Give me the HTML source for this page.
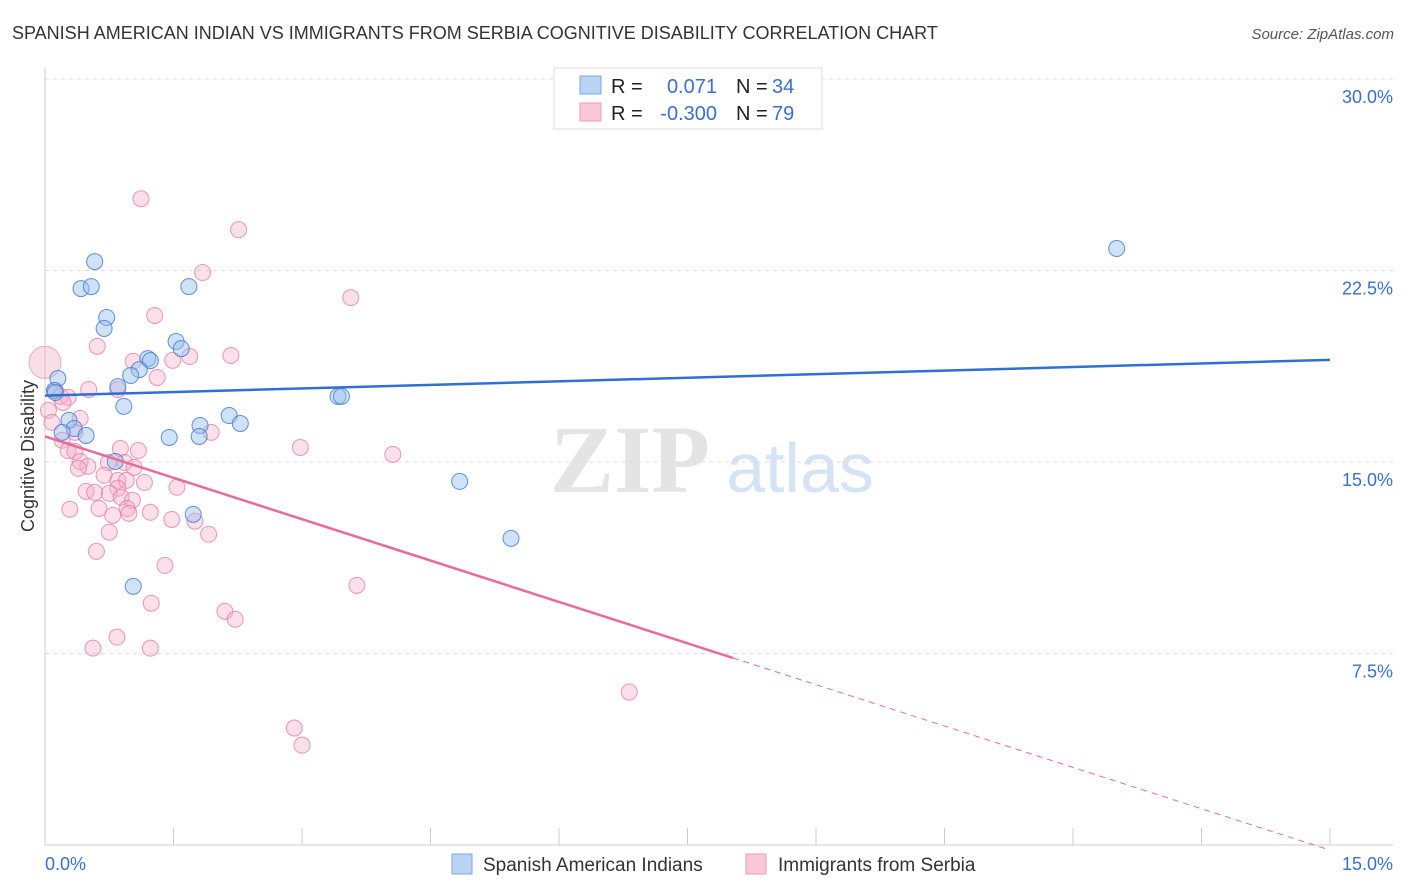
<!DOCTYPE html>
<html><head><meta charset="utf-8"><style>
body{margin:0;background:#fff;font-family:"Liberation Sans",sans-serif;}
svg{display:block}
</style></head><body>
<svg id="chart" width="1406" height="892">
<text x="12" y="39" font-size="18" fill="#333">SPANISH AMERICAN INDIAN VS IMMIGRANTS FROM SERBIA COGNITIVE DISABILITY CORRELATION CHART</text>
<text x="1394" y="39" font-size="15" fill="#555" font-style="italic" text-anchor="end">Source: ZipAtlas.com</text>
<text x="630" y="492" font-size="96" fill="#e4e4e4" font-family="Liberation Serif" font-weight="bold" text-anchor="middle">ZIP</text>
<text x="800" y="492" font-size="70" fill="#d5e3f5" text-anchor="middle">atlas</text>
<g id="grid"></g><g id="axes"></g><g id="marks"></g>
<text transform="translate(34,456) rotate(-90)" font-size="18" fill="#333" text-anchor="middle">Cognitive Disability</text>
<g>
<rect x="554" y="68" width="268" height="61" fill="#fff" stroke="#ddd"/>
<rect x="580" y="76" width="21" height="18" fill="#b9d3f5" stroke="#7aa7e6"/>
<rect x="580" y="103" width="21" height="18" fill="#fbc8d8" stroke="#ee9ab5"/>
<text x="611" y="93" font-size="20" fill="#222">R =</text><text x="717" y="93" font-size="20" fill="#3a6fd0" text-anchor="end">0.071</text>
<text x="736" y="93" font-size="20" fill="#222">N =</text><text x="772" y="93" font-size="20" fill="#3a6fd0">34</text>
<text x="611" y="120" font-size="20" fill="#222">R =</text><text x="717" y="120" font-size="20" fill="#3a6fd0" text-anchor="end">-0.300</text>
<text x="736" y="120" font-size="20" fill="#222">N =</text><text x="772" y="120" font-size="20" fill="#3a6fd0">79</text>
</g>
<g>
<rect x="452" y="854" width="20" height="20" fill="#b9d3f5" stroke="#7aa7e6"/>
<text x="483" y="871" font-size="19" fill="#333">Spanish American Indians</text>
<rect x="746" y="854" width="20" height="20" fill="#fbc8d8" stroke="#ee9ab5"/>
<text x="778" y="871" font-size="19" fill="#333">Immigrants from Serbia</text>
</g>
</svg>
<script>
const yTicks=[7.5,15,22.5,30];
const yTickLabels=["7.5%","15.0%","22.5%","30.0%"];
const xLabels=["0.0%","15.0%"];
const blueX=[0.58,0.42,0.54,1.68,0.72,0.69,1.53,1.59,1.20,1.23,1.10,1.00,0.15,0.11,0.85,0.92,3.42,3.46,2.15,1.81,2.28,0.28,0.34,0.48,0.20,1.45,1.80,0.82,4.84,1.73,5.44,1.03,12.51,0.12];
const blueY=[22.85,21.79,21.87,21.87,20.66,20.23,19.72,19.44,19.05,18.97,18.62,18.39,18.27,17.80,17.95,17.18,17.57,17.57,16.82,16.43,16.51,16.63,16.31,16.04,16.16,15.96,16.00,15.02,14.24,12.95,12.01,10.13,23.36,17.72];
const pinkX=[1.12,2.26,1.84,3.57,1.28,0.61,1.69,2.17,1.03,1.49,1.31,0.51,0.85,0.12,0.18,0.27,0.21,0.04,0.41,0.08,0.35,0.20,0.27,0.35,0.88,1.09,1.94,2.98,4.06,0.41,0.74,0.93,0.50,0.39,1.04,0.69,0.85,0.95,0.85,1.16,1.54,0.48,0.58,0.75,0.89,1.02,0.63,0.96,0.29,0.79,0.98,1.23,1.48,1.75,0.75,1.91,0.60,1.40,3.64,1.24,2.10,2.22,0.84,0.56,1.23,6.82,2.91,3.00];
const pinkY=[25.31,24.10,22.42,21.44,20.74,19.53,19.13,19.17,18.94,18.98,18.31,17.84,17.84,17.80,17.57,17.53,17.33,17.02,16.71,16.55,16.16,15.85,15.45,15.41,15.53,15.45,16.16,15.57,15.30,15.02,14.98,14.98,14.83,14.75,14.79,14.48,14.28,14.28,13.97,14.20,14.01,13.85,13.81,13.77,13.62,13.50,13.18,13.18,13.15,12.91,12.99,13.03,12.75,12.68,12.25,12.17,11.50,10.95,10.17,9.47,9.15,8.84,8.14,7.71,7.71,5.99,4.58,3.91];
const blueTrend=[17.6,19.0];
const pinkTrend=[16.0,-0.2];
const pinkSolidEnd=8.03;
const NS="http://www.w3.org/2000/svg";
const xs=v=>45+v*(1285/15), ys=v=>845-v*(766/30);
function mk(t,a,p){const e=document.createElementNS(NS,t);for(const k in a)e.setAttribute(k,a[k]);p.appendChild(e);return e;}
const grid=document.getElementById('grid'),axes=document.getElementById('axes'),marks=document.getElementById('marks');
yTicks.forEach((t,i)=>{
 const l=mk('line',{x1:45,x2:1393,y1:ys(t),y2:ys(t),stroke:'#ddd','stroke-dasharray':'4,4'},grid);
 
 const tx=mk('text',{x:1393,y:ys(t)+24,'font-size':18,fill:'#3a6fd0','text-anchor':'end'},axes);
 tx.textContent=yTickLabels[i];
 
});
mk('line',{x1:45,x2:45,y1:68,y2:845,stroke:'#ccc'},axes);
mk('line',{x1:45,x2:1393,y1:845,y2:845,stroke:'#ccc'},axes);
for(let i=0;i<=10;i++){const t=mk('line',{x1:xs(i*1.5),x2:xs(i*1.5),y1:828,y2:845,stroke:'#ccc'},axes);
 }
let a=mk('text',{x:45,y:870,'font-size':18,fill:'#3a6fd0'},axes);a.textContent=xLabels[0];

a=mk('text',{x:1393,y:870,'font-size':18,fill:'#3a6fd0','text-anchor':'end'},axes);a.textContent=xLabels[1];

let big=mk('circle',{cx:xs(0),cy:ys(18.9),r:16,fill:'rgba(240,170,195,0.4)',stroke:'rgba(225,120,160,0.6)'},marks);

pinkX.forEach((v,i)=>{const c=mk('circle',{cx:xs(v),cy:ys(pinkY[i]),r:8,fill:'rgba(245,175,200,0.4)',stroke:'rgba(228,120,160,0.75)','stroke-width':1},marks);
 });
blueX.forEach((v,i)=>{const c=mk('circle',{cx:xs(v),cy:ys(blueY[i]),r:8,fill:'rgba(150,190,240,0.45)',stroke:'rgba(70,125,210,0.85)','stroke-width':1},marks);
 });
let bl=mk('line',{x1:xs(0),y1:ys(blueTrend[0]),x2:xs(15),y2:ys(blueTrend[1]),stroke:'#2f6fd6','stroke-width':2.5},marks);

const py=x=>pinkTrend[0]+(pinkTrend[1]-pinkTrend[0])*x/15;
let pl=mk('line',{x1:xs(0),y1:ys(py(0)),x2:xs(pinkSolidEnd),y2:ys(py(pinkSolidEnd)),stroke:'#e86b98','stroke-width':2.5},marks);

let pd=mk('line',{x1:xs(pinkSolidEnd),y1:ys(py(pinkSolidEnd)),x2:xs(15),y2:ys(py(15)),stroke:'#e86b98','stroke-width':1,'stroke-dasharray':'6,5'},marks);

</script>
</body></html>
